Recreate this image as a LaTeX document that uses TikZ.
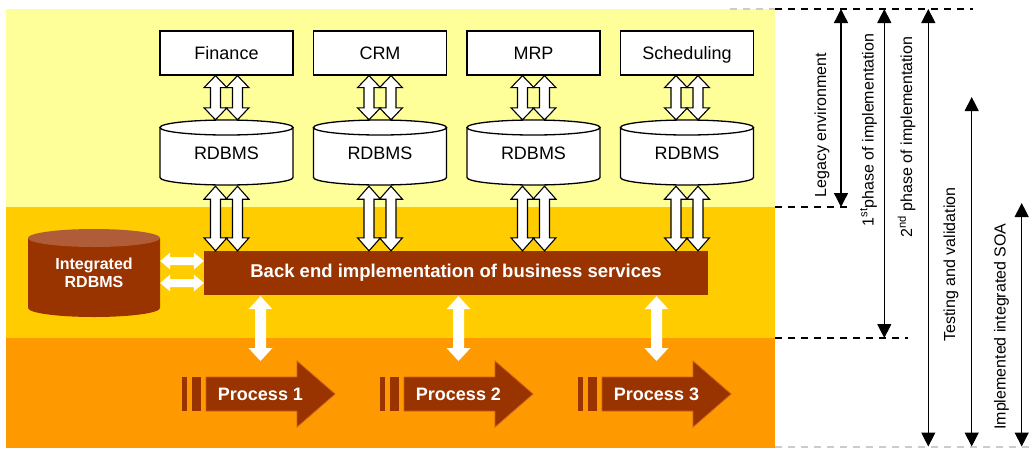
\documentclass[tikz,border=0pt]{standalone}
\usepackage{fontspec}
\setmainfont{Liberation Sans}
\usetikzlibrary{arrows.meta,calc}

\definecolor{paleyellow}{HTML}{FFFF99}
\definecolor{goldband}{HTML}{FFCC00}
\definecolor{orangeband}{HTML}{FF9900}
\definecolor{rust}{HTML}{993300}
\definecolor{rusttop}{HTML}{B05C38}
\definecolor{rustedge}{HTML}{C8621E}

% vertical fat double arrow: style, upper point, lower point, shaft half width, head half width, head length
\newcommand{\vdoublearrow}[6]{%
  \path[#1] let \p1=#2, \p2=#3 in
    (\x1,\y1) -- (\x1+#5pt,\y1-#6pt) -- (\x1+#4pt,\y1-#6pt)
    -- (\x1+#4pt,\y2+#6pt) -- (\x1+#5pt,\y2+#6pt) -- (\x1,\y2)
    -- (\x1-#5pt,\y2+#6pt) -- (\x1-#4pt,\y2+#6pt)
    -- (\x1-#4pt,\y1-#6pt) -- (\x1-#5pt,\y1-#6pt) -- cycle;}

% horizontal fat double arrow: style, left point, right point, shaft half width, head half width, head length
\newcommand{\hdoublearrow}[6]{%
  \path[#1] let \p1=#2, \p2=#3 in
    (\x1,\y1) -- (\x1+#6pt,\y1+#5pt) -- (\x1+#6pt,\y1+#4pt)
    -- (\x2-#6pt,\y1+#4pt) -- (\x2-#6pt,\y1+#5pt) -- (\x2,\y1)
    -- (\x2-#6pt,\y1-#5pt) -- (\x2-#6pt,\y1-#4pt)
    -- (\x1+#6pt,\y1-#4pt) -- (\x1+#6pt,\y1-#5pt) -- cycle;}

% database drum: body style, lid style, centre x, top y, bottom y, half width, lid radius
\newcommand{\drum}[7]{%
  \path[#1] (#3-#6,#4+#7) -- (#3-#6,#5-#7)
    .. controls (#3-#6,#5-#7+0.552*#7) and (#3-0.552*#6,#5) .. (#3,#5)
    .. controls (#3+0.552*#6,#5) and (#3+#6,#5-#7+0.552*#7) .. (#3+#6,#5-#7)
    -- (#3+#6,#4+#7) -- cycle;
  \path[#2] (#3,#4+#7) ellipse [x radius=#6, y radius=#7];}

% process arrow with its two lead bars: x offset, node name, text
\newcommand{\procarrow}[3]{%
  \begin{scope}[xshift=#1pt]
    \fill[rust] (182.3,377) rectangle (186.7,411);
    \fill[rust] (191.7,377) rectangle (201,411);
    \path[procshape] (206,377) -- (297,377) -- (297,361) -- (335,394)
      -- (297,427) -- (297,411) -- (206,411) -- cycle;
    \node[proclbl] (#2) at (260.5,394) {#3};
    \coordinate (#2tip) at (260.5,361);
  \end{scope}}

\begin{document}
\begin{tikzpicture}[x=1pt,y=-1pt,
  lbl/.style={font=\fontsize{18}{21}\selectfont, inner sep=0,
    text height=13pt, text depth=0pt},
  appbox/.style={lbl, draw=black, fill=white, line width=1.3pt,
    minimum width=133, minimum height=44},
  drumlbl/.style={lbl, minimum width=133, minimum height=65},
  hollowarrow/.style={draw=black, fill=white, line width=1.1pt, line join=miter},
  whitearrow/.style={fill=white},
  drumline/.style={draw=black, fill=white, line width=1.3pt},
  procshape/.style={fill=rust, draw=rustedge, line width=0.8pt},
  proclbl/.style={text=white, font=\bfseries\fontsize{18}{21}\selectfont, inner sep=0},
  sidelbl/.style={rotate=90, font=\fontsize{16}{19}\selectfont, inner sep=0},
  spanarrow/.style={{Triangle[length=14pt,width=14pt]}-{Triangle[length=14pt,width=14pt]},
    line width=1.3pt},
  guide/.style={dash pattern=on 7pt off 6pt, line width=1.3pt},
]
\useasboundingbox (0,0) rectangle (1031,448);

% background bands
\fill[paleyellow] (6,9) rectangle (775,207);
\fill[goldband] (6,207) rectangle (775,338);
\fill[orangeband] (6,338) rectangle (775,448);

% guide lines on the right
\coordinate (g0) at (775,9);
\coordinate (g1) at (775,207);
\coordinate (g2) at (775,338);
\coordinate (g3) at (775,447);
\draw[guide, gray!40] (730,9) -- (g0);
\draw[guide] (g0) -- ++(198,0);
\draw[guide] (g1) -- ++(75,0);
\draw[guide] (g2) -- ++(133,0);
\draw[guide, gray!40] (g3) -- ++(256,0);

% legacy applications
\node[appbox] (fin) at (226.5,53) {Finance};
\node[appbox] (crm) at (380,53) {CRM};
\node[appbox] (mrp) at (533.5,53) {MRP};
\node[appbox] (sch) at (687,53) {Scheduling};

% their databases
\drum{drumline}{drumline}{226.5}{120}{185}{66.5}{7.5}
\drum{drumline}{drumline}{380}{120}{185}{66.5}{7.5}
\drum{drumline}{drumline}{533.5}{120}{185}{66.5}{7.5}
\drum{drumline}{drumline}{687}{120}{185}{66.5}{7.5}
\node[drumlbl] (db1) at (226.5,152.5) {RDBMS};
\node[drumlbl] (db2) at (380,152.5) {RDBMS};
\node[drumlbl] (db3) at (533.5,152.5) {RDBMS};
\node[drumlbl] (db4) at (687,152.5) {RDBMS};

% back end bar
\node[proclbl, font=\bfseries\fontsize{18.5}{21}\selectfont, fill=rust,
  minimum width=504, minimum height=44] (bar) at (456,273)
  {Back end implementation of business services};

% integrated database
\drum{fill=rust}{fill=rusttop}{94}{229}{317}{66}{9}
\node[proclbl, font=\bfseries\fontsize{16}{18.5}\selectfont, align=center,
  minimum width=132, minimum height=88] (intdb) at (94,273) {Integrated\\RDBMS};

% application <-> database links
\foreach \a/\d in {fin/db1, crm/db2, mrp/db3, sch/db4} {
  \vdoublearrow{hollowarrow}{($(\a.south)+(-11,0)$)}{(\d.north)}{5}{11.5}{12}
  \vdoublearrow{hollowarrow}{($(\a.south)+(11,0)$)}{(\d.north)}{5}{11.5}{12}
}
% database <-> back end links
\foreach \d in {db1, db2, db3, db4} {
  \vdoublearrow{hollowarrow}{($(\d.south)+(-11,1)$)}{(\d.south |- bar.north)}{5}{11.5}{13}
  \vdoublearrow{hollowarrow}{($(\d.south)+(11,1)$)}{(\d.south |- bar.north)}{5}{11.5}{13}
}

% integrated database <-> back end links
\hdoublearrow{whitearrow}{($(intdb.east)+(0,-12)$)}{(bar.west)}{4}{8.5}{10}
\hdoublearrow{whitearrow}{($(intdb.east)+(0,10)$)}{(bar.west)}{4}{8.5}{10}

% processes
\procarrow{0}{p1}{Process 1}
\procarrow{198}{p2}{Process 2}
\procarrow{396}{p3}{Process 3}

% back end <-> process links
\vdoublearrow{whitearrow}{($(bar.south -| p1tip)+(0,1)$)}{(p1tip)}{5.5}{12}{13}
\vdoublearrow{whitearrow}{($(bar.south -| p2tip)+(0,1)$)}{(p2tip)}{5.5}{12}{13}
\vdoublearrow{whitearrow}{($(bar.south -| p3tip)+(0,1)$)}{(p3tip)}{5.5}{12}{13}

% project phases
\coordinate (a1t) at (841,9);     \coordinate (a1b) at (841,207);
\coordinate (a2t) at (884.3,9);   \coordinate (a2b) at (884.3,338);
\coordinate (a3t) at (928.3,9);   \coordinate (a3b) at (928.3,446.5);
\coordinate (a4t) at (971.7,97);  \coordinate (a4b) at (971.7,446.5);
\coordinate (a5t) at (1021.7,203);\coordinate (a5b) at (1021.7,446.5);
\draw[spanarrow] (a1t) -- (a1b);
\draw[spanarrow] (a2t) -- (a2b);
\draw[spanarrow] (a3t) -- (a3b);
\draw[spanarrow] (a4t) -- (a4b);
\draw[spanarrow] (a5t) -- (a5b);
\node[sidelbl] (l1) at (822,125) {Legacy environment};
\node[sidelbl] (l2) at (868.5,130) {1\textsuperscript{st}phase of implementation};
\node[sidelbl] (l3) at (906.5,137) {2\textsuperscript{nd} phase of implementation};
\node[sidelbl] (l4) at (951,264.5) {Testing and validation};
\node[sidelbl] (l5) at (1001.5,326.5) {Implemented integrated SOA};
\end{tikzpicture}
\end{document}
